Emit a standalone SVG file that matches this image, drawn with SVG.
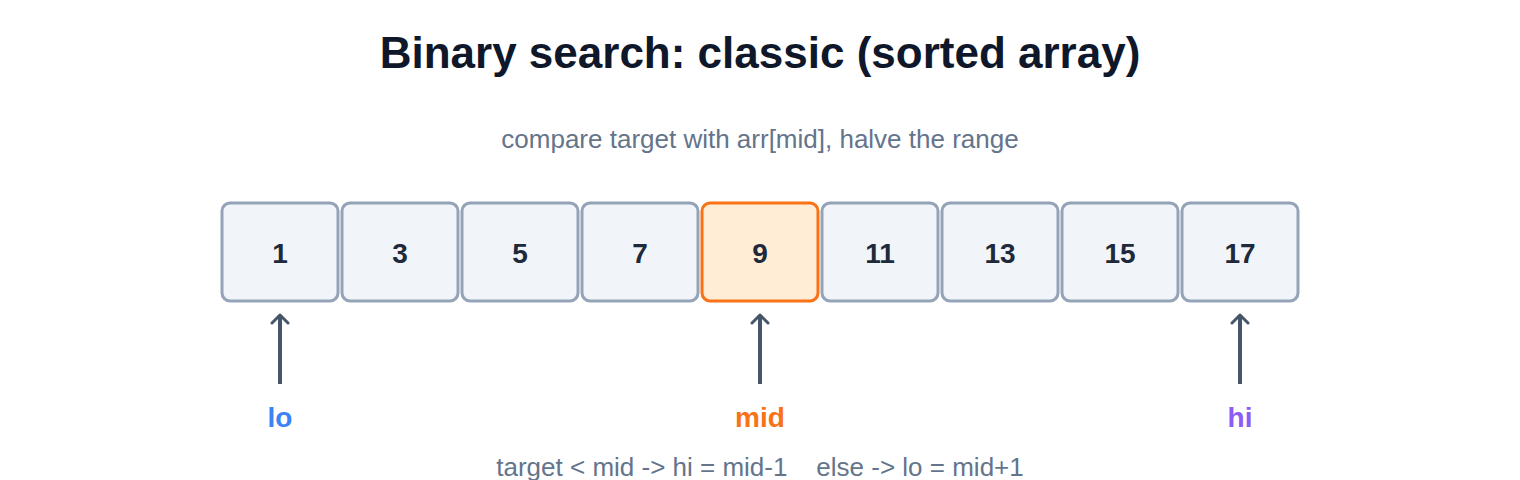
<svg xmlns="http://www.w3.org/2000/svg" width="1520" height="480" viewBox="0 0 1520 480">
<defs>
<style>
.title{font-family:"Liberation Sans",Arial,sans-serif;font-weight:bold;font-size:44px;fill:#0f172a;text-anchor:middle}
.sub{font-family:"Liberation Sans",Arial,sans-serif;font-size:26px;fill:#64748b;text-anchor:middle;white-space:pre}
.cell rect{fill:#f1f5f9;stroke:#94a3b8;stroke-width:3}
.cell.mid rect{fill:#ffedd5;stroke:#f97316}
.cell text{font-family:"Liberation Sans",Arial,sans-serif;font-weight:bold;font-size:28px;fill:#1e293b;text-anchor:middle;dominant-baseline:central}
.ptr{stroke:#475569;stroke-width:4;fill:none;marker-end:url(#ah)}
.lbl{font-family:"Liberation Sans",Arial,sans-serif;font-weight:bold;font-size:28px;text-anchor:middle;dominant-baseline:central}
</style>
<marker id="ah" viewBox="0 0 20 20" refX="10" refY="10" markerWidth="20" markerHeight="20" markerUnits="userSpaceOnUse" orient="auto">
<path d="M2,2 L10,10 L2,18" fill="none" stroke="#475569" stroke-width="3" stroke-linecap="round" stroke-linejoin="round"/>
</marker>
</defs>
<rect width="1520" height="480" fill="#ffffff"/>
<text class="title" x="760" y="68">Binary search: classic (sorted array)</text>
<text class="sub" x="760" y="148">compare target with arr[mid], halve the range</text>
<g id="cell0" class="cell"><rect x="222" y="203" width="116" height="98" rx="8"/><text x="280" y="253">1</text></g>
<g id="cell1" class="cell"><rect x="342" y="203" width="116" height="98" rx="8"/><text x="400" y="253">3</text></g>
<g id="cell2" class="cell"><rect x="462" y="203" width="116" height="98" rx="8"/><text x="520" y="253">5</text></g>
<g id="cell3" class="cell"><rect x="582" y="203" width="116" height="98" rx="8"/><text x="640" y="253">7</text></g>
<g id="cell4" class="cell mid"><rect x="702" y="203" width="116" height="98" rx="8"/><text x="760" y="253">9</text></g>
<g id="cell5" class="cell"><rect x="822" y="203" width="116" height="98" rx="8"/><text x="880" y="253">11</text></g>
<g id="cell6" class="cell"><rect x="942" y="203" width="116" height="98" rx="8"/><text x="1000" y="253">13</text></g>
<g id="cell7" class="cell"><rect x="1062" y="203" width="116" height="98" rx="8"/><text x="1120" y="253">15</text></g>
<g id="cell8" class="cell"><rect x="1182" y="203" width="116" height="98" rx="8"/><text x="1240" y="253">17</text></g>
<g id="connectors">
<line class="ptr" x1="280" y1="384" x2="280" y2="315"/>
<line class="ptr" x1="760" y1="384" x2="760" y2="315"/>
<line class="ptr" x1="1240" y1="384" x2="1240" y2="315"/>
</g>
<g id="lbl-lo"><text class="lbl" x="280" y="417" fill="#3b82f6">lo</text></g>
<g id="lbl-mid"><text class="lbl" x="760" y="417" fill="#f97316">mid</text></g>
<g id="lbl-hi"><text class="lbl" x="1240" y="417" fill="#8b5cf6">hi</text></g>
<text class="sub" x="760" y="476" xml:space="preserve">target &lt; mid -&gt; hi = mid-1    else -&gt; lo = mid+1</text>
</svg>
